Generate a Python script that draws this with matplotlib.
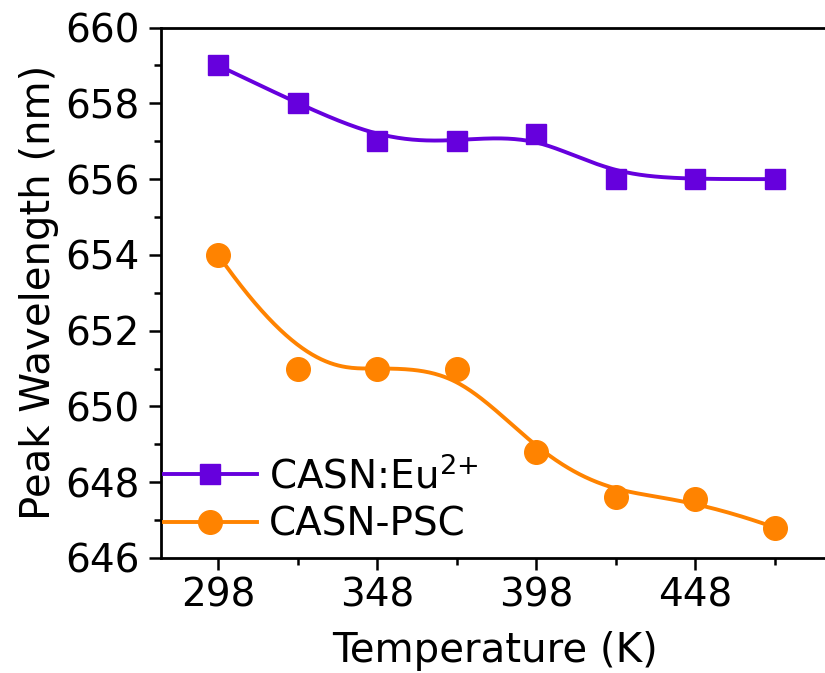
import numpy as np
import matplotlib
matplotlib.use('Agg')
import matplotlib.pyplot as plt
from matplotlib.ticker import MultipleLocator, FixedLocator

# peak wavelength vs temperature
temps = [298, 323, 348, 373, 398, 423, 448, 473]
eu_peak = [659.0, 658.0, 657.0, 657.0, 657.2, 656.0, 656.0, 656.0]
psc_peak = [654.0, 651.0, 651.0, 651.0, 648.8, 647.6, 647.55, 646.8]

xticks_major = [298, 348, 398, 448]
xticks_minor = [323, 373, 423, 473]


def bspline(xs, ys, num=300):
    # clamped cubic B-spline using the data points as control points
    # (same look as the B-spline connect line in Origin)
    P = np.column_stack([xs, ys]).astype(float)
    n = len(P)
    k = 3
    knots = np.concatenate([np.zeros(k), np.arange(n - k + 1), np.full(k, n - k)]).astype(float)
    t = np.linspace(0, n - k, num)
    t[-1] -= 1e-9
    # Cox-de Boor
    N = np.zeros((num, len(knots) - 1))
    for i in range(len(knots) - 1):
        N[:, i] = (t >= knots[i]) & (t < knots[i + 1])
    for d in range(1, k + 1):
        Nn = np.zeros((num, len(knots) - 1 - d))
        for i in range(len(knots) - 1 - d):
            a = knots[i + d] - knots[i]
            b = knots[i + d + 1] - knots[i + 1]
            left = (t - knots[i]) / a * N[:, i] if a > 0 else 0
            right = (knots[i + d + 1] - t) / b * N[:, i + 1] if b > 0 else 0
            Nn[:, i] = left + right
        N = Nn
    C = N @ P
    return C[:, 0], C[:, 1]


plt.rcParams['font.family'] = ['DejaVu Sans']
plt.rcParams['font.size'] = 28

purple = '#6600dd'
orange = '#ff8300'

fig = plt.figure(figsize=(8.25, 6.73), dpi=100)
ax = fig.add_axes([0.195, 0.171, 0.81, 0.788])

for ys, col, mk, ms, lab in [(eu_peak, purple, 's', 15, 'CASN:Eu$^{2{+}}$'),
                             (psc_peak, orange, 'o', 17, 'CASN-PSC')]:
    cx, cy = bspline(temps, ys)
    ax.plot(cx, cy, color=col, lw=2.8, zorder=2)
    ax.plot(temps, ys, ls='none', marker=mk, ms=ms, color=col, zorder=3)
    # legend proxy
    ax.plot([], [], color=col, lw=2.8, marker=mk, ms=ms, label=lab)

ax.set_xlim(280, 490)
ax.set_ylim(646, 660)
ax.xaxis.set_major_locator(FixedLocator(xticks_major))
ax.xaxis.set_minor_locator(FixedLocator(xticks_minor))
ax.yaxis.set_major_locator(MultipleLocator(2))
ax.yaxis.set_minor_locator(MultipleLocator(1))

for s in ['left', 'bottom', 'top']:
    ax.spines[s].set_linewidth(2)
ax.spines['right'].set_visible(False)
ax.tick_params(which='major', direction='out', length=8.5, width=1.8, labelsize=28)
ax.tick_params(which='minor', direction='out', length=5, width=1.8)
ax.tick_params(axis='x', which='major', pad=5)
ax.tick_params(axis='y', which='major', pad=7)
ax.tick_params(top=False, right=False, which='both')

ax.set_xlabel('Temperature (K)', fontsize=29, labelpad=12)
ax.set_ylabel('Peak Wavelength (nm)', fontsize=29, labelpad=4)

ax.legend(loc='center left', bbox_to_anchor=(0.004, 0.109), frameon=False,
          borderpad=0, borderaxespad=0, handlelength=2.4, handletextpad=0.3,
          labelspacing=0.25, fontsize=28)

plt.savefig('out.png', dpi=100)
